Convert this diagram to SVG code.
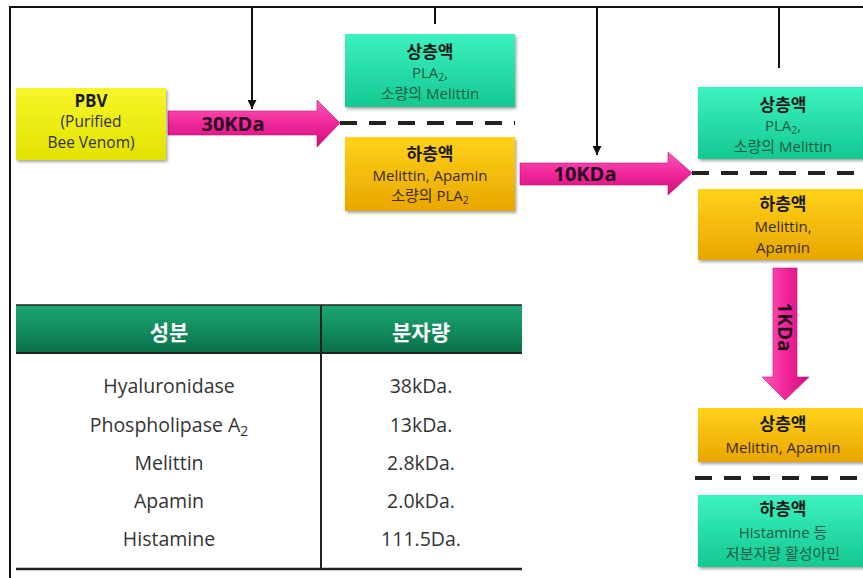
<svg xmlns="http://www.w3.org/2000/svg" width="863" height="578" viewBox="0 0 863 578">
<style>
text{font-family:"Open Sans","Noto Sans CJK KR","Noto Sans",sans-serif;text-anchor:middle;fill:#1a1a1a}
.h{font-weight:bold;font-size:17px}
.s{font-size:15px}
.gs{fill:#1c5c40}
.ys{fill:#3a2a00}
.lbl{font-weight:bold;font-size:20px;fill:#2a0a20}
.th{font-weight:bold;font-size:21px;fill:#fff}
.td{font-size:19.5px;fill:#333}
.green{fill:url(#gGreen);filter:url(#sh)}
.yel{fill:url(#gYel);filter:url(#sh)}
.pink{fill:url(#gPink);stroke:#c01070;stroke-width:0.6}
.dash{stroke:#222;stroke-width:4;stroke-dasharray:17 12;fill:none}
.conn{stroke:#111;stroke-width:2;fill:none}
</style>
<defs>
<linearGradient id="gGreen" x1="0" y1="0" x2="0" y2="1"><stop offset="0" stop-color="#3cf2c0"/><stop offset="1" stop-color="#14c892"/></linearGradient>
<linearGradient id="gYel" x1="0" y1="0" x2="0" y2="1"><stop offset="0" stop-color="#ffd21a"/><stop offset="1" stop-color="#e9a600"/></linearGradient>
<linearGradient id="gPBV" x1="0" y1="0" x2="0" y2="1"><stop offset="0" stop-color="#f6f62a"/><stop offset="1" stop-color="#e2e200"/></linearGradient>
<linearGradient id="gPink" x1="0" y1="0" x2="0" y2="1"><stop offset="0" stop-color="#ff5ab8"/><stop offset="0.5" stop-color="#f0269a"/><stop offset="1" stop-color="#d0107c"/></linearGradient>
<linearGradient id="gPinkV" x1="0" y1="0" x2="1" y2="0"><stop offset="0" stop-color="#ff5ab8"/><stop offset="0.5" stop-color="#f0269a"/><stop offset="1" stop-color="#d0107c"/></linearGradient>
<linearGradient id="gHead" x1="0" y1="0" x2="0" y2="1"><stop offset="0" stop-color="#1aa874"/><stop offset="1" stop-color="#0b7048"/></linearGradient>
<filter id="sh" x="-10%" y="-10%" width="130%" height="140%"><feDropShadow dx="1.5" dy="2" stdDeviation="1.5" flood-color="#000" flood-opacity="0.35"/></filter>
<marker id="ah" viewBox="0 0 10 10" refX="10" refY="5" markerWidth="4.5" markerHeight="4.5" orient="auto"><path d="M0,0 L10,5 L0,10 Z" fill="#111"/></marker>
</defs>
<rect width="863" height="578" fill="#fff"/>
<path d="M10,578 V7 H863" fill="none" stroke="#111" stroke-width="2"/>

<g id="connectors">
<path class="conn" d="M435,24 V7 H252 V109" marker-end="url(#ah)"/>
<path class="conn" d="M779,68 V7 H597 V155" marker-end="url(#ah)"/>
<path class="dash" d="M340,123 H515"/>
<path class="dash" d="M692,173 H863"/>
<path class="dash" d="M695,478 H863"/>
</g>

<g id="arrow30">
<path class="pink" d="M168,111 H317 V100 L340,123 L317,147 V135 H168 Z"/>
<text class="lbl" x="233" y="131">30KDa</text>
</g>
<g id="arrow10">
<path class="pink" d="M520,163 H668 V152 L692,173 L668,195 V185 H520 Z"/>
<text class="lbl" x="585" y="181">10KDa</text>
</g>
<g id="arrow1">
<path d="M773,268 H797 V377 H809 L785,400 L762,377 H773 Z" fill="url(#gPinkV)" stroke="#c01070" stroke-width="0.6"/>
<text class="lbl" transform="translate(778,327) rotate(90)" x="0" y="0" style="font-size:19px">1KDa</text>
</g>

<g id="pbv">
<rect x="16" y="88" width="150" height="72" fill="url(#gPBV)" filter="url(#sh)"/>
<text x="91" y="107" style="font-weight:bold;font-size:17px">PBV</text>
<text x="91" y="127" style="font-size:15.5px;fill:#333">(Purified</text>
<text x="91" y="148" style="font-size:15.5px;fill:#333">Bee Venom)</text>
</g>

<g id="upper1">
<rect class="green" x="345" y="34" width="170" height="73"/>
<text class="h" x="430" y="58">상층액</text>
<text class="s gs" x="430" y="78">PLA<tspan font-size="10.5" dy="3">2</tspan><tspan dy="-3">,</tspan></text>
<text class="s gs" x="430" y="99">소량의 Melittin</text>
</g>
<g id="lower1">
<rect class="yel" x="345" y="137" width="170" height="74"/>
<text class="h" x="430" y="160">하층액</text>
<text class="s ys" x="430" y="181">Melittin, Apamin</text>
<text class="s ys" x="430" y="201">소량의 PLA<tspan font-size="10.5" dy="3">2</tspan></text>
</g>

<g id="upper2">
<rect class="green" x="698" y="87" width="170" height="72"/>
<text class="h" x="783" y="111">상층액</text>
<text class="s gs" x="783" y="131">PLA<tspan font-size="10.5" dy="3">2</tspan><tspan dy="-3">,</tspan></text>
<text class="s gs" x="783" y="152">소량의 Melittin</text>
</g>
<g id="lower2">
<rect class="yel" x="698" y="189" width="170" height="71"/>
<text class="h" x="783" y="210">하층액</text>
<text class="s ys" x="783" y="232">Melittin,</text>
<text class="s ys" x="783" y="253">Apamin</text>
</g>
<g id="upper3">
<rect class="yel" x="698" y="408" width="170" height="54"/>
<text class="h" x="783" y="430">상층액</text>
<text class="s ys" x="783" y="453">Melittin, Apamin</text>
</g>
<g id="lower3">
<rect class="green" x="698" y="495" width="170" height="72"/>
<text class="h" x="783" y="515">하층액</text>
<text class="s gs" x="783" y="538">Histamine 등</text>
<text class="s gs" x="783" y="559">저분자량 활성아민</text>
</g>

<g id="table">
<rect x="16" y="305" width="506" height="48" fill="url(#gHead)"/>
<line x1="16" y1="305" x2="522" y2="305" stroke="#222" stroke-width="1.5"/>
<line x1="16" y1="353" x2="522" y2="353" stroke="#222" stroke-width="2"/>
<line x1="321" y1="305" x2="321" y2="569" stroke="#222" stroke-width="2"/>
<line x1="16" y1="569" x2="522" y2="569" stroke="#222" stroke-width="2.5"/>
<text class="th" x="169" y="340">성분</text>
<text class="th" x="421" y="340">분자량</text>
<text class="td" x="169" y="393">Hyaluronidase</text>
<text class="td" x="169" y="432">Phospholipase A<tspan font-size="14" dy="4">2</tspan></text>
<text class="td" x="169" y="470">Melittin</text>
<text class="td" x="169" y="508">Apamin</text>
<text class="td" x="169" y="546">Histamine</text>
<text class="td" x="421" y="393">38kDa.</text>
<text class="td" x="421" y="432">13kDa.</text>
<text class="td" x="421" y="470">2.8kDa.</text>
<text class="td" x="421" y="508">2.0kDa.</text>
<text class="td" x="421" y="546">111.5Da.</text>
</g>
</svg>
